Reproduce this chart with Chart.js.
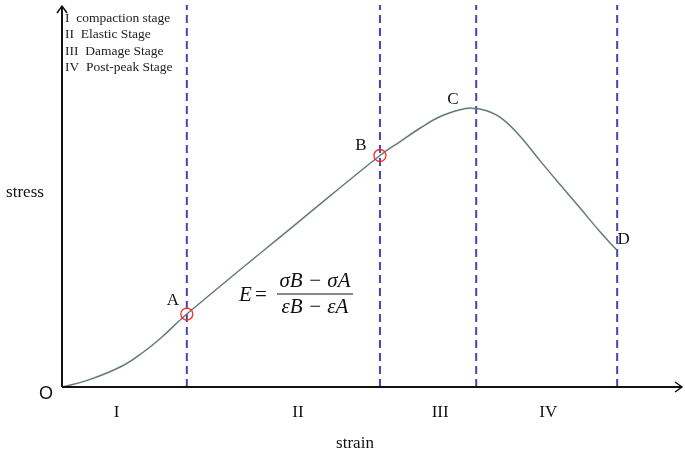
<!DOCTYPE html>
<html>
<head>
<meta charset="utf-8">
<script src="https://cdn.jsdelivr.net/npm/chart.js@4"></script>
<style>
  html, body { margin: 0; padding: 0; background: #fff; }
  #wrap { width: 685px; height: 457px; }
</style>
</head>
<body>
<div id="wrap"><canvas id="stressChart" width="685" height="457"></canvas></div>
<script>
// strain / stress curve (arbitrary units, x 0-100, y 0-100)
const strainValues = [0, 4.2, 9.7, 12.9, 16.1, 20.1, 38.3, 51.2, 54.4, 57.7, 60.9, 64.1, 66.0, 68.4, 70.9, 73.8, 77.0, 80.2, 83.4, 86.6, 89.3];
const stressValues = [0, 1.8, 5.5, 8.9, 13.1, 19.1, 43.5, 60.6, 64.2, 67.8, 70.8, 72.6, 73.0, 72.3, 70.2, 65.6, 59.2, 53.0, 46.9, 40.7, 35.9];

// stage boundaries (dashed lines)
const stageBounds = [20.1, 51.2, 66.7, 89.4];
const stageLabels = ['I', 'II', 'III', 'IV'];
const stageLabelX = [8.8, 38.0, 60.9, 78.3];

// marked points
const markNames = ['A', 'B', 'C', 'D'];
const markX = [20.1, 51.2, 66.0, 89.3];
const markY = [19.1, 60.6, 73.0, 35.9];
const circledPoints = [0, 1];

const legendLines = ['I  compaction stage', 'II  Elastic Stage', 'III  Damage Stage', 'IV  Post-peak Stage'];

const curveData = strainValues.map((x, i) => ({ x: x, y: stressValues[i] }));

const datasets = [{
    data: curveData,
    borderColor: '#627b74',
    borderWidth: 1.5,
    pointRadius: 0,
    tension: 0.4,
    order: 1
}];

stageBounds.forEach(function (b) {
    datasets.push({
        data: [{ x: b, y: 0 }, { x: b, y: 100 }],
        borderColor: '#4444b6',
        borderWidth: 2,
        borderDash: [8, 5],
        pointRadius: 0,
        order: 2
    });
});

datasets.push({
    data: circledPoints.map(i => ({ x: markX[i], y: markY[i] })),
    showLine: false,
    pointRadius: 6,
    pointBorderWidth: 1.3,
    pointBorderColor: '#ff2a2a',
    pointBackgroundColor: 'rgba(0,0,0,0)',
    order: 0
});

const annotations = {
    id: 'annotations',
    afterDatasetsDraw: function (chart) {
        const ctx = chart.ctx;
        const xs = chart.scales.x;
        const ys = chart.scales.y;
        const x0 = xs.getPixelForValue(0);
        const y0 = ys.getPixelForValue(0);
        const xEnd = xs.getPixelForValue(100);
        const yTop = ys.getPixelForValue(100);

        ctx.save();
        // axes with arrows
        ctx.strokeStyle = '#111';
        ctx.lineWidth = 2;
        ctx.beginPath();
        ctx.moveTo(x0, y0);
        ctx.lineTo(xEnd - 1, y0);
        ctx.moveTo(x0, y0);
        ctx.lineTo(x0, yTop + 1);
        ctx.stroke();
        ctx.lineWidth = 1.5;
        ctx.beginPath();
        ctx.moveTo(xEnd - 8, y0 - 5);
        ctx.lineTo(xEnd - 1, y0);
        ctx.lineTo(xEnd - 8, y0 + 5);
        ctx.moveTo(x0 - 5, yTop + 8);
        ctx.lineTo(x0, yTop + 1);
        ctx.lineTo(x0 + 5, yTop + 8);
        ctx.stroke();

        ctx.fillStyle = '#111';
        ctx.textBaseline = 'middle';

        // origin
        ctx.font = '18px "Liberation Sans"';
        ctx.textAlign = 'center';
        ctx.fillText('O', x0 - 16, y0 + 7);

        // axis titles
        ctx.font = '17px "Liberation Serif"';
        ctx.fillText('stress', 25, 193);
        ctx.fillText('strain', 355, 444);

        // stage numerals
        stageLabels.forEach(function (s, i) {
            ctx.fillText(s, xs.getPixelForValue(stageLabelX[i]), y0 + 26);
        });

        // point labels
        const offs = [[-14, -14], [-19, -10], [-19, -9], [7, -10]];
        markNames.forEach(function (n, i) {
            ctx.fillText(n, xs.getPixelForValue(markX[i]) + offs[i][0], ys.getPixelForValue(markY[i]) + offs[i][1]);
        });

        // legend text
        ctx.font = '13.5px "Liberation Serif"';
        ctx.fillStyle = '#222';
        ctx.textAlign = 'left';
        legendLines.forEach(function (t, i) {
            ctx.fillText(t, 65, 18 + i * 16.5);
        });

        // formula E = (σB − σA) / (εB − εA)
        ctx.fillStyle = '#111';
        ctx.font = 'italic 21px "Liberation Serif"';
        ctx.textAlign = 'left';
        ctx.fillText('E', 239, 295);
        ctx.font = '21px "Liberation Serif"';
        ctx.fillText('=', 255, 295);
        ctx.textAlign = 'center';
        ctx.font = 'italic 21px "Liberation Serif"';
        ctx.fillText('σB − σA', 315, 281);
        ctx.fillText('εB − εA', 315, 307);
        ctx.lineWidth = 1.2;
        ctx.strokeStyle = '#111';
        ctx.beginPath();
        ctx.moveTo(277, 294);
        ctx.lineTo(353, 294);
        ctx.stroke();
        ctx.restore();
    }
};

new Chart(document.getElementById('stressChart'), {
    type: 'line',
    data: { datasets: datasets },
    options: {
        responsive: false,
        animation: false,
        layout: { autoPadding: false, padding: { left: 62, right: 2, top: 5, bottom: 70 } },
        plugins: {
            legend: { display: false },
            tooltip: { enabled: false }
        },
        scales: {
            x: { type: 'linear', min: 0, max: 100, display: false },
            y: { type: 'linear', min: 0, max: 100, display: false }
        },
        clip: false
    },
    plugins: [annotations]
});
</script>
</body>
</html>
